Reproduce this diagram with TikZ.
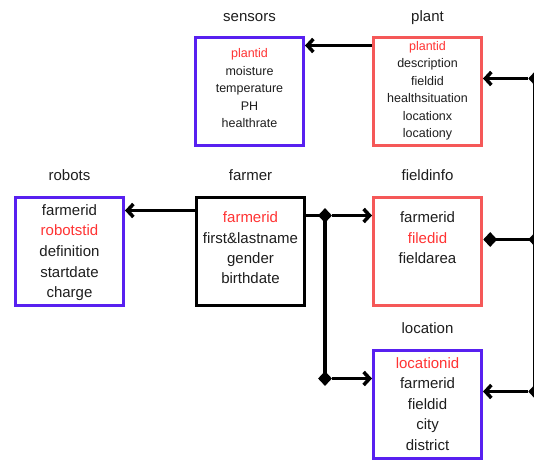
\documentclass[tikz,border=0pt]{standalone}
\usepackage{fontspec}
\setmainfont{Liberation Sans}
\usetikzlibrary{positioning,shapes.geometric,arrows.meta}

\definecolor{keyred}{RGB}{255,51,51}
\definecolor{boxred}{RGB}{245,88,88}
\definecolor{boxblue}{RGB}{88,32,240}
\definecolor{ink}{RGB}{30,30,30}

\tikzset{
  tbl/.style={rectangle, draw=#1, line width=3pt, minimum width=108pt, minimum height=108pt,
    align=center, text=ink, inner sep=0pt, font=\fontsize{15}{20.6}\selectfont},
  small/.style={font=\fontsize{12.5}{17.5}\selectfont},
  title/.style={text=ink, inner sep=0pt, text depth=0pt, font=\fontsize{15}{18}\selectfont},
  link/.style={line width=3.5pt, -{Straight Barb[length=6pt, width=13pt]}},
  bus/.style={line width=3.5pt},
  joint/.style={diamond, fill=black, inner sep=0pt, minimum width=14pt, minimum height=15pt},
}
\newcommand{\key}[1]{\textcolor{keyred}{#1}}

\begin{document}
\begin{tikzpicture}[x=1pt, y=-1pt]
\useasboundingbox[fill=white] (0,0) rectangle (534,459);

% tables
\node[tbl=black, text depth=6pt, font=\fontsize{15}{20.3}\selectfont] (farmer) at (250.5,251) {\key{farmerid}\\ first\&lastname\\ gender\\ birthdate};
\node[tbl=boxblue, text depth=0pt, left=70pt of farmer] (robots) {farmerid\\ \key{robotstid}\\ definition\\ startdate\\ charge};
\node[tbl=boxred, text depth=6pt, font=\fontsize{15}{20.3}\selectfont, right=66pt of farmer] (fieldinfo) {farmerid\\ \key{filedid}\\ fieldarea\\ \mbox{}};
\node[tbl=boxblue, below=42pt of fieldinfo] (location) {\key{locationid}\\ farmerid\\ fieldid\\ city\\ district};
\node[tbl=boxred, small, above=49pt of fieldinfo] (plant) {\key{plantid}\\ description\\ fieldid\\ healthsituation\\ locationx\\ locationy};
\node[tbl=boxblue, small, text depth=6pt, left=67pt of plant] (sensors) {\key{plantid}\\ moisture\\ temperature\\ PH\\ healthrate};

% titles
\node[title, above=14pt of sensors] (sensorsttl) {sensors};
\node[title, above=14pt of plant] (plantttl) {plant};
\node[title, above=15pt of robots] (robotsttl) {robots};
\node[title, above=15pt of farmer] (farmerttl) {farmer};
\node[title, above=15pt of fieldinfo] (fieldinfottl) {fieldinfo};
\node[title, above=15pt of location] (locationttl) {location};

% left side links
\coordinate (p1) at ([yshift=-10pt]plant.north west);
\draw[link] (p1) -- (p1 -| sensors.east);
\coordinate (f1) at ([yshift=-15pt]farmer.north west);
\draw[link] (f1) -- (f1 -| robots.east);

% farmer to fieldinfo and location
\coordinate (f2) at ([yshift=-20pt]farmer.north east);
\coordinate (l1) at ([yshift=-30pt]location.north west);
\node[joint] (j1) at ([xshift=19pt]f2) {};
\node[joint] (j2) at (j1 |- l1) {};
\draw[bus] (f2) -- (j1.center);
\draw[bus] (j1.center) -- (j2.center);
\draw[link] (j1) -- (j1 -| fieldinfo.west);
\draw[link] (j2) -- (l1);

% rail on the right
\coordinate (rail) at (535.2,0);
\coordinate (p2) at ([yshift=-43pt]plant.north east);
\coordinate (l2) at ([yshift=-43pt]location.north east);
\node[joint, anchor=west] (fd) at ([yshift=-44pt]fieldinfo.north east) {};
\node[joint] (r1) at (p2 -| rail) {};
\node[joint] (r2) at (fd -| rail) {};
\node[joint] (r3) at (l2 -| rail) {};
\draw[bus] (r1.center) -- (r3.center);
\draw[link] (r1) -- (p2);
\draw[bus] (fd.center) -- (r2.center);
\draw[link] (r3) -- (l2);

\end{tikzpicture}
\end{document}
